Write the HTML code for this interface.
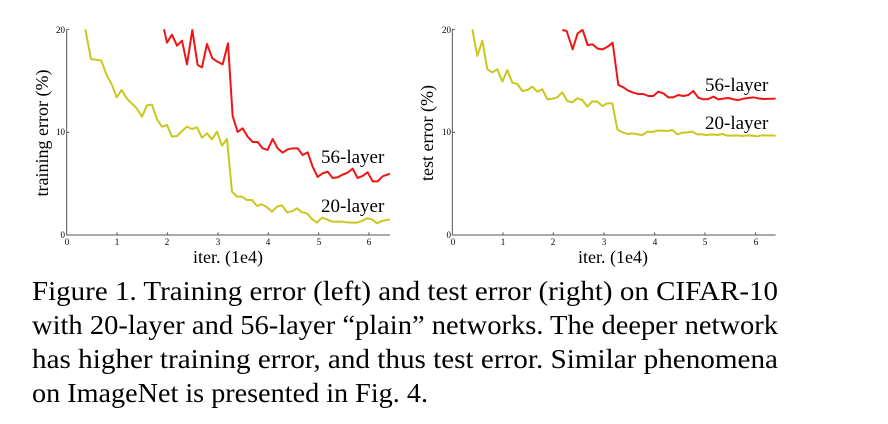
<!DOCTYPE html>
<html><head><meta charset="utf-8"><style>
html,body{margin:0;padding:0;background:#fff;width:888px;height:424px;overflow:hidden}
svg{display:block}
text{font-family:"Liberation Serif",serif;fill:#000}
</style></head><body>
<svg width="888" height="424" viewBox="0 0 888 424">
<g transform="translate(30,20) scale(0.3333)">
  <polyline fill="none" stroke="#555" stroke-width="3" points="110,28 110,645 1080,645"/>
  <g stroke="#555" stroke-width="3">
    <line x1="261" y1="645" x2="261" y2="637"/><line x1="412" y1="645" x2="412" y2="637"/><line x1="564" y1="645" x2="564" y2="637"/><line x1="715" y1="645" x2="715" y2="637"/><line x1="866" y1="645" x2="866" y2="637"/><line x1="1017" y1="645" x2="1017" y2="637"/>
    <line x1="110" y1="337" x2="118" y2="337"/><line x1="110" y1="28" x2="118" y2="28"/>
  </g>
  <polyline fill="none" stroke="#c8c81e" stroke-width="6" stroke-linejoin="round" points="166,28 183,117 214,122 230,165 246,195 260,232 275,210 290,235 305,250 320,265 336,290 351,256 366,254 381,298 396,320 411,315 426,350 441,348 456,333 471,320 486,327 501,322 516,353 531,340 546,358 561,335 576,377 591,357 606,515 621,530 636,530 651,540 666,540 681,558 696,553 711,562 726,575 741,560 756,556 771,577 786,574 801,565 816,577 831,580 846,597 861,608 876,593 891,598 906,605 921,605 936,605 951,607 966,608 981,608 996,603 1011,595 1026,598 1041,610 1056,603 1080,598"/>
  <polyline fill="none" stroke="#f01414" stroke-width="6" stroke-linejoin="round" points="402,28 411,68 426,44 441,77 456,62 471,133 487,30 503,135 516,142 531,72 547,115 562,125 578,133 594,70 608,288 623,336 638,325 653,350 668,366 683,366 698,385 713,390 728,357 743,385 758,398 773,388 788,385 803,385 818,405 833,397 848,440 863,471 878,460 893,455 908,474 923,472 938,464 953,458 968,446 983,474 998,468 1013,457 1028,484 1043,484 1058,469 1080,461"/>
</g>
<g transform="translate(410,20) scale(0.3333)">
  <polyline fill="none" stroke="#555" stroke-width="3" points="127,28 127,645 1097,645"/>
  <g stroke="#555" stroke-width="3">
    <line x1="279" y1="645" x2="279" y2="637"/><line x1="430" y1="645" x2="430" y2="637"/><line x1="582" y1="645" x2="582" y2="637"/><line x1="734" y1="645" x2="734" y2="637"/><line x1="885" y1="645" x2="885" y2="637"/><line x1="1037" y1="645" x2="1037" y2="637"/>
    <line x1="127" y1="337" x2="135" y2="337"/><line x1="127" y1="28" x2="135" y2="28"/>
  </g>
  <polyline fill="none" stroke="#c8c81e" stroke-width="6" stroke-linejoin="round" points="187,28 202,108 217,62 232,148 247,157 262,148 277,185 292,150 307,188 322,192 337,213 352,210 367,200 382,215 397,208 412,238 427,236 442,232 457,217 472,243 487,247 502,235 517,240 532,260 547,244 562,245 577,258 592,250 607,250 622,328 637,337 652,342 667,340 682,343 697,345 712,335 727,336 742,332 757,332 772,333 787,330 802,343 817,338 832,337 847,335 862,343 877,343 892,345 907,343 922,345 937,342 952,347 967,347 982,346 997,348 1012,346 1027,347 1042,349 1057,346 1097,347"/>
  <polyline fill="none" stroke="#f01414" stroke-width="6" stroke-linejoin="round" points="457,30 470,33 488,88 503,40 518,30 533,75 548,73 563,86 578,88 593,80 608,68 625,195 640,202 655,212 670,218 685,222 700,222 715,228 730,228 745,215 760,220 775,232 790,232 805,225 820,228 835,225 850,213 865,233 880,238 895,237 910,230 925,238 940,236 955,234 970,238 985,240 1000,236 1015,234 1030,232 1045,235 1060,237 1097,236"/>
</g>
<g font-size="9" text-anchor="middle">
  <text x="67" y="245">0</text><text x="117" y="245">1</text><text x="167" y="245">2</text><text x="218" y="245">3</text><text x="268" y="245">4</text><text x="319" y="245">5</text><text x="369" y="245">6</text>
  <text x="453" y="245">0</text><text x="503" y="245">1</text><text x="553" y="245">2</text><text x="604" y="245">3</text><text x="655" y="245">4</text><text x="705" y="245">5</text><text x="756" y="245">6</text>
</g>
<g font-size="9" text-anchor="end">
  <text x="65" y="238">0</text><text x="65" y="135">10</text><text x="65" y="33">20</text>
  <text x="451" y="238">0</text><text x="451" y="135">10</text><text x="451" y="33">20</text>
</g>
<text x="228" y="263" font-size="18" text-anchor="middle">iter. (1e4)</text>
<text x="613" y="263" font-size="18" text-anchor="middle">iter. (1e4)</text>
<text transform="translate(48,133) rotate(-90)" font-size="18" text-anchor="middle">training error (%)</text>
<text transform="translate(433,133) rotate(-90)" font-size="18" text-anchor="middle">test error (%)</text>
<text x="321" y="163" font-size="19">56-layer</text>
<text x="321" y="212" font-size="19">20-layer</text>
<text x="705" y="91" font-size="19">56-layer</text>
<text x="705" y="129" font-size="19">20-layer</text>
<g font-size="27">
  <text x="32" y="300" textLength="746" lengthAdjust="spacingAndGlyphs">Figure 1. Training error (left) and test error (right) on CIFAR-10</text>
  <text x="32" y="334" textLength="746" lengthAdjust="spacingAndGlyphs">with 20-layer and 56-layer “plain” networks. The deeper network</text>
  <text x="32" y="368" textLength="746" lengthAdjust="spacingAndGlyphs">has higher training error, and thus test error.  Similar phenomena</text>
  <text x="32" y="402" textLength="396" lengthAdjust="spacingAndGlyphs">on ImageNet is presented in Fig. 4.</text>
</g>
</svg>
</body></html>
